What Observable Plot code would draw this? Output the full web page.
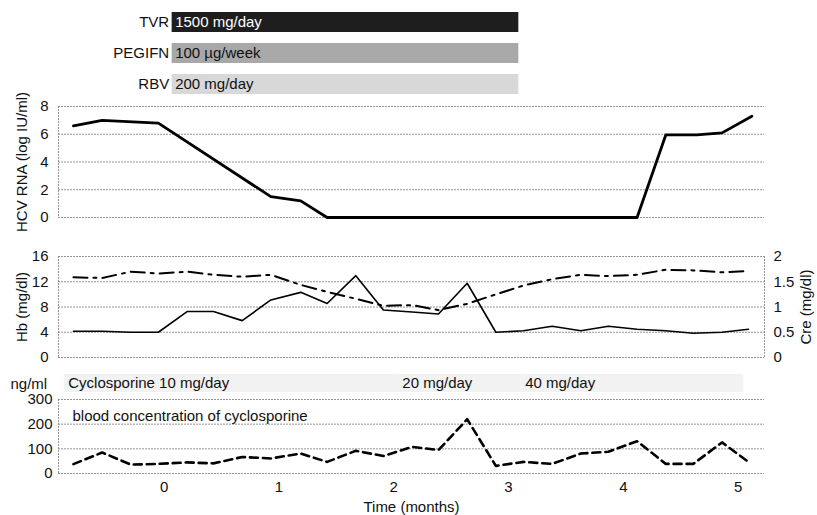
<!DOCTYPE html>
<html><head><meta charset="utf-8">
<script src="https://cdn.jsdelivr.net/npm/d3@7"></script>
<script src="https://cdn.jsdelivr.net/npm/@observablehq/plot@0.6"></script>
<style>
body{margin:0;background:#fff;}
#c{position:relative;width:817px;height:515px;overflow:hidden;}
#c > div{position:absolute;left:0;}
</style></head><body><div id="c"></div>
<script>
// ---- data ----
const treatments = ["TVR", "PEGIFN", "RBV"];
const treatmentDose = ["1500 mg/day", "100 \u00b5g/week", "200 mg/day"];
const treatmentStart = [0.07, 0.07, 0.07];
const treatmentEnd = [3.09, 3.09, 3.09];

const hcvTime = [-0.79, -0.54, -0.05, 0.93, 1.19, 1.42, 4.12, 4.37, 4.64, 4.86, 5.12];
const hcvRNA  = [6.6, 7.0, 6.8, 1.5, 1.2, 0, 0, 5.95, 5.95, 6.1, 7.3];

const labTime = [-0.79,-0.54,-0.29,-0.05,0.20,0.43,0.68,0.93,1.19,1.42,1.67,1.91,2.16,2.39,2.64,2.89,3.13,3.38,3.63,3.87,4.12,4.37,4.61,4.86,5.09];
const hb  = [12.7,12.6,13.6,13.3,13.6,13.1,12.8,13.1,11.5,10.4,9.3,8.2,8.3,7.5,8.5,10.0,11.4,12.4,13.1,12.9,13.1,13.9,13.8,13.5,13.7];
const cre = [0.52,0.52,0.5,0.5,0.91,0.91,0.73,1.14,1.29,1.07,1.62,0.94,0.9,0.86,1.47,0.5,0.53,0.62,0.53,0.62,0.56,0.53,0.48,0.5,0.56];
const cyclosporine = [38,85,36,39,45,41,67,61,81,47,92,71,108,95,220,31,47,39,81,88,131,39,39,126,47];

const cycloDoseLabel = ["Cyclosporine 10 mg/day", "20 mg/day", "40 mg/day"];
const cycloDoseStart = [-0.87, 2.04, 3.11];
const cycloDoseEnd   = [2.04, 3.11, 5.05];

const hcvTicks = [0, 2, 4, 6, 8];
const hbTicks = [0, 4, 8, 12, 16];
const creTicks = [0, 0.5, 1, 1.5, 2];
const cycloTicks = [0, 100, 200, 300];
const monthTicks = [0, 1, 2, 3, 4, 5];

// ---- layout / style ----
const W = 817, ML = 58, MR = 53;
const xDomain = [-0.92, 5.23];
const font = {fontFamily: "'Liberation Sans', Arial, Helvetica, sans-serif", fontSize: "15px", background: "transparent", color: "#111", overflow: "visible"};
const gridStyle = {stroke: "#8a8a8a", strokeOpacity: 0.9, strokeWidth: 1, strokeDasharray: "2,1"};
const barFills = ["#1e1e1e", "#a8a8a8", "#d8d8d8"];
const creScale = hbTicks[hbTicks.length - 1] / creTicks[creTicks.length - 1];

const c = document.getElementById("c");
function place(svg, top) { const d = document.createElement("div"); d.style.top = top + "px"; d.appendChild(svg); c.appendChild(d); }

// Treatment bars
const tbl = treatments.map((t, i) => ({drug: t, dose: treatmentDose[i], start: treatmentStart[i], end: treatmentEnd[i]}));
place(Plot.plot({
  width: W, height: 100, marginLeft: ML, marginRight: MR, marginTop: 11, marginBottom: 5,
  style: font,
  x: {domain: xDomain, axis: null},
  y: {domain: treatments, axis: null, paddingInner: 0.36, paddingOuter: 0},
  color: {domain: treatments, range: barFills},
  marks: [
    Plot.barX(tbl, {x1: "start", x2: "end", y: "drug", fill: "drug"}),
    Plot.text(tbl, {x: "start", y: "drug", text: "drug", textAnchor: "end", dx: -3}),
    Plot.text(tbl, {x: "start", y: "drug", text: "dose", textAnchor: "start", dx: 3, fill: d => d.drug === "TVR" ? "white" : "#111"})
  ]
}), 0);

// HCV RNA panel
const hcv = hcvTime.map((t, i) => ({t, v: hcvRNA[i]}));
place(Plot.plot({
  width: W, height: 137, marginLeft: ML, marginRight: MR, marginTop: 16, marginBottom: 10,
  style: font,
  x: {domain: xDomain, axis: null},
  y: {domain: [0, 8]},
  marks: [
    Plot.gridY(hcvTicks, gridStyle),
    Plot.ruleX([xDomain[0]], gridStyle),
    Plot.axisY({ticks: hcvTicks, tickSize: 0, tickPadding: 10, label: "HCV RNA (log IU/ml)", labelAnchor: "center", labelArrow: "none", labelOffset: 42}),
    Plot.line(hcv, {x: "t", y: "v", stroke: "#000", strokeWidth: 2.8})
  ]
}), 90);

// Hb / Cre panel
const lab = labTime.map((t, i) => ({t, hb: hb[i], cre: cre[i], cyc: cyclosporine[i]}));
place(Plot.plot({
  width: W, height: 127, marginLeft: ML, marginRight: MR, marginTop: 16, marginBottom: 10,
  style: font,
  x: {domain: xDomain, axis: null},
  y: {domain: [0, 16]},
  marks: [
    Plot.gridY(hbTicks, gridStyle),
    Plot.ruleX([xDomain[0]], gridStyle),
    Plot.ruleX([xDomain[1]], gridStyle),
    Plot.axisY({ticks: hbTicks, tickSize: 0, tickPadding: 10, label: "Hb (mg/dl)", labelAnchor: "center", labelArrow: "none", labelOffset: 42}),
    Plot.axisY({anchor: "right", ticks: creTicks.map(v => v * creScale), tickFormat: d => String(d / creScale), tickSize: 0, tickPadding: 9, label: "Cre (mg/dl)", labelAnchor: "center", labelArrow: "none", labelOffset: 46}),
    Plot.line(lab, {x: "t", y: "hb", stroke: "#000", strokeWidth: 2, strokeDasharray: "14,6,3,6"}),
    Plot.line(lab, {x: "t", y: d => d.cre * creScale, stroke: "#000", strokeWidth: 1.6})
  ]
}), 240);

// Cyclosporine dose strip
const doses = cycloDoseLabel.map((l, i) => ({label: l, start: cycloDoseStart[i], end: cycloDoseEnd[i]}));
place(Plot.plot({
  width: W, height: 22, marginLeft: ML, marginRight: MR, marginTop: 2, marginBottom: 2,
  style: font,
  x: {domain: xDomain, axis: null},
  marks: [
    Plot.barX(doses, {x1: "start", x2: "end", fill: "#f2f2f2"}),
    Plot.text(doses, {x: "start", text: "label", textAnchor: "start", dx: 4, frameAnchor: "middle", fill: "#111"})
  ]
}), 372);

// Cyclosporine concentration panel
place(Plot.plot({
  width: W, height: 150, marginLeft: ML, marginRight: MR, marginTop: 34, marginBottom: 42,
  style: font,
  x: {domain: xDomain},
  y: {domain: [0, 300]},
  marks: [
    Plot.gridY(cycloTicks, gridStyle),
    Plot.ruleX([xDomain[0]], gridStyle),
    Plot.axisY({ticks: cycloTicks, tickSize: 0, tickPadding: 6, label: null}),
    Plot.axisX({ticks: monthTicks, tickFormat: d3.format("d"), tickSize: 0, tickPadding: 8, label: "Time (months)", labelAnchor: "center", labelArrow: "none", labelOffset: 38}),
    Plot.text(["ng/ml"], {text: d => d, frameAnchor: "top-left", textAnchor: "start", dx: -48, dy: -21}),
    Plot.text(["blood concentration of cyclosporine"], {text: d => d, frameAnchor: "top-left", textAnchor: "start", dx: 14, dy: 11}),
    Plot.line(lab, {x: "t", y: "cyc", stroke: "#000", strokeWidth: 2.6, strokeDasharray: "8,5"})
  ]
}), 365);
</script></body></html>
